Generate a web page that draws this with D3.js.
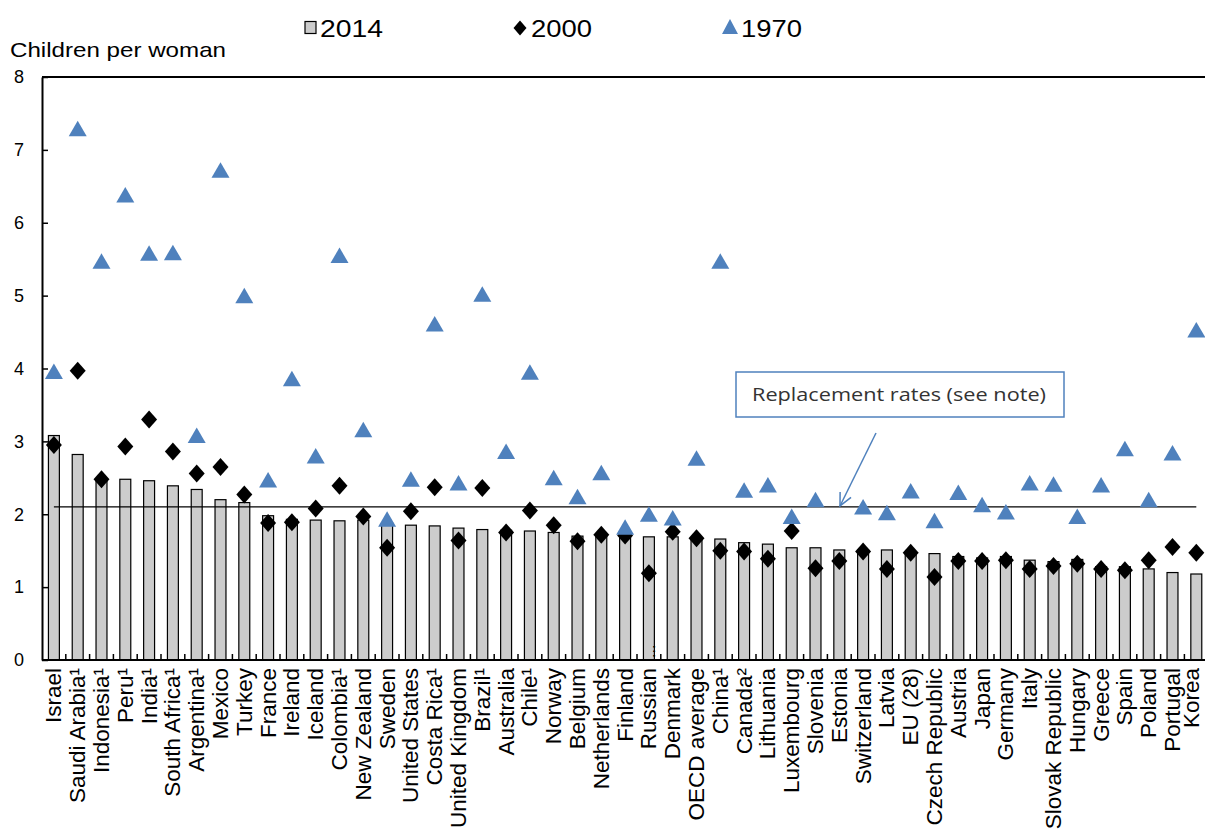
<!DOCTYPE html>
<html>
<head>
<meta charset="utf-8">
<script src="https://cdn.jsdelivr.net/npm/d3@7"></script>
<style>
  html, body { margin: 0; padding: 0; background: #fff; }
  svg { display: block; }
  text { font-family: "Liberation Sans", Arial, sans-serif; fill: #000; }
</style>
</head>
<body>
<svg id="chart" width="1205" height="837"></svg>
<script>
const categories = ["Israel","Saudi Arabia¹","Indonesia¹","Peru¹","India¹","South Africa¹","Argentina¹","Mexico","Turkey","France","Ireland","Iceland","Colombia¹","New Zealand","Sweden","United States","Costa Rica¹","United Kingdom","Brazil¹","Australia","Chile¹","Norway","Belgium","Netherlands","Finland","Russian","Denmark","OECD average","China¹","Canada²","Lithuania","Luxembourg","Slovenia","Estonia","Switzerland","Latvia","EU (28)","Czech Republic","Austria","Japan","Germany","Italy","Slovak Republic","Hungary","Greece","Spain","Poland","Portugal","Korea"];

const values2014 = [3.08,2.82,2.49,2.48,2.46,2.39,2.34,2.20,2.16,1.98,1.93,1.92,1.91,1.92,1.88,1.85,1.84,1.81,1.79,1.78,1.77,1.75,1.70,1.70,1.68,1.69,1.69,1.66,1.66,1.61,1.59,1.54,1.54,1.51,1.51,1.51,1.46,1.46,1.42,1.40,1.42,1.37,1.35,1.38,1.28,1.28,1.25,1.20,1.18];

const values2000 = [2.95,3.97,2.48,2.93,3.30,2.86,2.56,2.65,2.27,1.88,1.89,2.08,2.39,1.97,1.54,2.04,2.37,1.64,2.36,1.75,2.05,1.85,1.63,1.72,1.71,1.19,1.76,1.67,1.50,1.49,1.39,1.77,1.26,1.36,1.49,1.25,1.47,1.14,1.36,1.36,1.37,1.25,1.29,1.32,1.25,1.23,1.37,1.55,1.47];

const values1970 = [3.96,7.29,5.47,6.38,5.58,5.59,3.08,6.72,5.00,2.47,3.86,2.80,5.55,3.16,1.93,2.48,4.61,2.43,5.02,2.86,3.95,2.50,2.24,2.57,1.82,2.00,1.95,2.77,5.47,2.33,2.40,1.97,2.20,null,2.10,2.02,2.32,1.91,2.30,2.13,2.03,2.43,2.41,1.97,2.40,2.90,2.20,2.84,4.53];

const seriesNames = ["2014","2000","1970"];
const yTicks = [0,1,2,3,4,5,6,7,8];
const replacementRate = 2.1;
const yTitle = "Children per woman";
const noteText = "Replacement rates (see note)";

const blue = "#4F81BD";
const svg = d3.select("#chart");

const mLeft = 42, mTop = 77, mBottom = 660, step = 23.8;
const x = d3.scaleBand().domain(categories).range([mLeft, mLeft + categories.length * step]).padding(0);
const y = d3.scaleLinear().domain([0, 8]).range([mBottom, mTop]);
const cx = c => x(c) + x.bandwidth() / 2;
const barW = x.bandwidth() * 0.46;

// bars 2014
svg.append("g").selectAll("rect").data(categories).join("rect")
  .attr("x", c => cx(c) - barW / 2)
  .attr("y", (c, i) => y(values2014[i]))
  .attr("width", barW)
  .attr("height", (c, i) => y(0) - y(values2014[i]))
  .attr("fill", "#cccccc")
  .attr("stroke", "#000")
  .attr("stroke-width", 1.2);

// replacement line
svg.append("line")
  .attr("x1", cx(categories[0])).attr("x2", cx(categories[categories.length - 1]))
  .attr("y1", y(replacementRate)).attr("y2", y(replacementRate))
  .attr("stroke", "#000").attr("stroke-width", 1.2);

// diamonds 2000
const diamond = "M0,-9L8,0L0,9L-8,0Z";
svg.append("g").selectAll("path").data(categories).join("path")
  .attr("d", diamond)
  .attr("transform", (c, i) => `translate(${cx(c)},${y(values2000[i])})`)
  .attr("fill", "#000");

// triangles 1970
const tri = "M0,-8L9,7.5L-9,7.5Z";
svg.append("g").selectAll("path")
  .data(categories.map((c, i) => ({c, v: values1970[i]})).filter(d => d.v != null))
  .join("path")
  .attr("d", tri)
  .attr("transform", d => `translate(${cx(d.c)},${y(d.v)})`)
  .attr("fill", blue);

// frame: top line
svg.append("line").attr("x1", mLeft).attr("x2", 1205).attr("y1", y(8)).attr("y2", y(8))
  .attr("stroke", "#000").attr("stroke-width", 2);

// y axis
const ya = svg.append("g").attr("transform", `translate(${mLeft},0)`)
  .call(d3.axisLeft(y).tickValues(yTicks).tickFormat(d3.format("d")).tickSizeInner(-6).tickSizeOuter(0).tickPadding(18));
ya.select(".domain").attr("stroke", "#000").attr("stroke-width", 2);
ya.selectAll(".tick line").attr("stroke", "#000").attr("stroke-width", 1.5);
ya.selectAll(".tick text").attr("font-size", 18).attr("font-family", "Liberation Sans, Arial, sans-serif").attr("fill", "#000");

// x axis line
svg.append("line").attr("x1", mLeft).attr("x2", 1205).attr("y1", y(0)).attr("y2", y(0))
  .attr("stroke", "#000").attr("stroke-width", 2);
// x ticks at band boundaries
svg.append("g").selectAll("line").data(categories.slice(1)).join("line")
  .attr("x1", c => x(c)).attr("x2", c => x(c))
  .attr("y1", y(0)).attr("y2", y(0) - 6)
  .attr("stroke", "#000").attr("stroke-width", 1.5);

// x labels (last label nudged left so it stays inside the page)
const lastCat = categories[categories.length - 1];
svg.append("g").selectAll("text").data(categories).join("text")
  .attr("transform", c => `translate(${cx(c) - (c === lastCat ? 5 : 0)},${y(0) + 8}) rotate(-90)`)
  .attr("text-anchor", "end")
  .attr("dy", "0.33em")
  .attr("font-size", 22.5)
  .text(c => c);
// ellipsis for truncated Russian label
svg.append("text")
  .attr("transform", `translate(${cx("Russian")},${y(0) - 2}) rotate(-90)`)
  .attr("text-anchor", "start").attr("dy", "0.36em")
  .attr("font-size", 16).text("...");

// y title
svg.append("text").attr("x", 10).attr("y", 57).attr("font-size", 21)
  .attr("textLength", 216).attr("lengthAdjust", "spacingAndGlyphs").text(yTitle);

// legend
const lg = svg.append("g");
lg.append("rect").attr("x", 305).attr("y", 21.5).attr("width", 11).attr("height", 12)
  .attr("fill", "#cccccc").attr("stroke", "#000").attr("stroke-width", 1.2);
lg.append("text").attr("x", 320).attr("y", 37).attr("font-size", 23)
  .attr("textLength", 63).attr("lengthAdjust", "spacingAndGlyphs").text(seriesNames[0]);
lg.append("path").attr("d", "M0,-7.5L6.5,0L0,7.5L-6.5,0Z").attr("transform", "translate(520,28)").attr("fill", "#000");
lg.append("text").attr("x", 531).attr("y", 37).attr("font-size", 23)
  .attr("textLength", 61).attr("lengthAdjust", "spacingAndGlyphs").text(seriesNames[1]);
lg.append("path").attr("d", "M0,-8L8,7L-8,7Z").attr("transform", "translate(730,27)").attr("fill", blue);
lg.append("text").attr("x", 741).attr("y", 37).attr("font-size", 23)
  .attr("textLength", 61).attr("lengthAdjust", "spacingAndGlyphs").text(seriesNames[2]);

// annotation
svg.append("rect").attr("x", 736).attr("y", 372).attr("width", 328).attr("height", 45)
  .attr("fill", "#fff").attr("stroke", blue).attr("stroke-width", 1.5);
svg.append("text").attr("x", 752).attr("y", 401).attr("font-size", 18)
  .style("font-family", "'Open Sans', Lato, sans-serif")
  .style("fill", "#333")
  .attr("textLength", 294).attr("lengthAdjust", "spacingAndGlyphs").text(noteText);
// arrow
const ax1 = 876, ay1 = 433, ax2 = 840, ay2 = y(replacementRate) - 1;
svg.append("line").attr("x1", ax1).attr("y1", ay1).attr("x2", ax2).attr("y2", ay2)
  .attr("stroke", blue).attr("stroke-width", 1.5);
const ang = Math.atan2(ay2 - ay1, ax2 - ax1);
const hl = 14, ha = 0.45;
svg.append("path")
  .attr("d", `M${ax2 - hl * Math.cos(ang - ha)},${ay2 - hl * Math.sin(ang - ha)}L${ax2},${ay2}L${ax2 - hl * Math.cos(ang + ha)},${ay2 - hl * Math.sin(ang + ha)}`)
  .attr("fill", "none").attr("stroke", blue).attr("stroke-width", 1.5);
</script>
</body>
</html>
